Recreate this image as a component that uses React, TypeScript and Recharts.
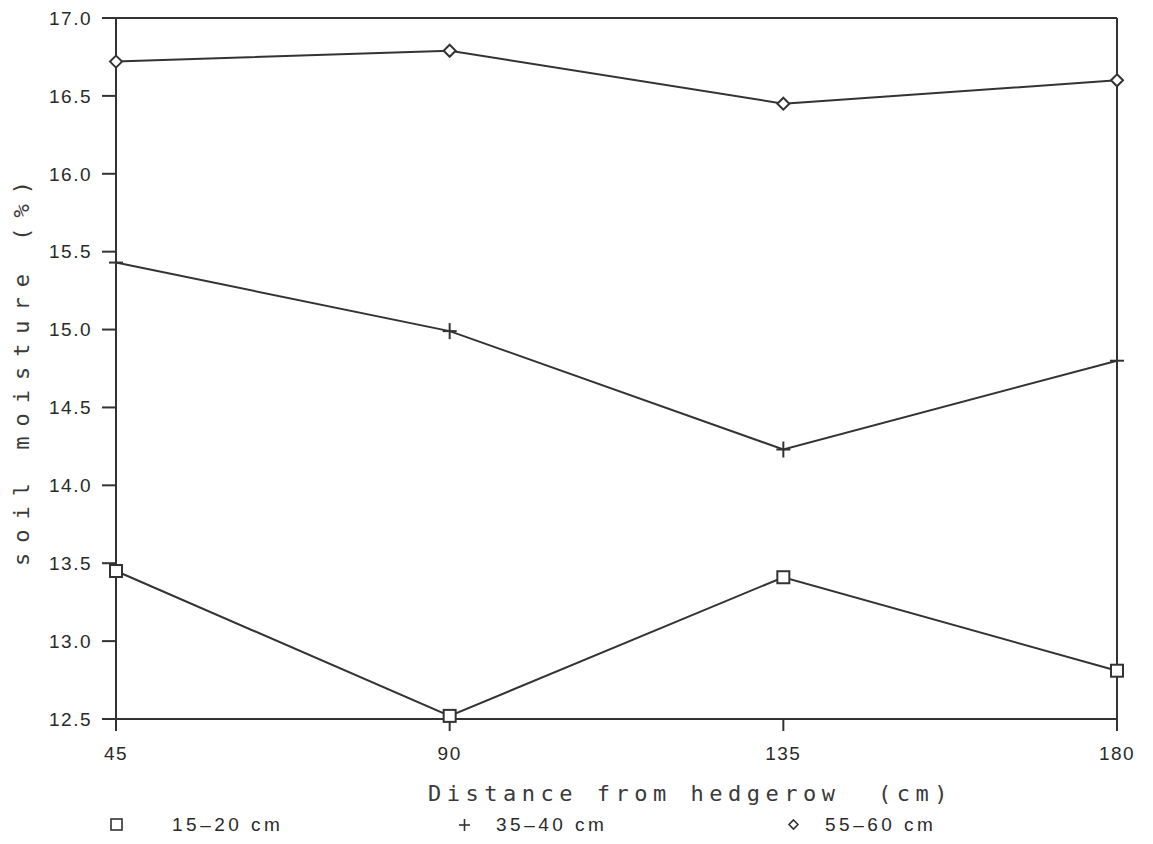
import { Line, LineChart, ReferenceLine, XAxis, YAxis } from 'recharts';

const distances = [45, 90, 135, 180];
const moisture15to20 = [13.45, 12.52, 13.41, 12.81];
const moisture35to40 = [15.43, 14.99, 14.23, 14.8];
const moisture55to60 = [16.72, 16.79, 16.45, 16.6];
const moistureTicks = [12.5, 13.0, 13.5, 14.0, 14.5, 15.0, 15.5, 16.0, 16.5, 17.0];
const depthLabels = ['15–20 cm', '35–40 cm', '55–60 cm'];

const data = distances.map((distance, i) => ({
  distance,
  d15: moisture15to20[i],
  d35: moisture35to40[i],
  d55: moisture55to60[i],
}));

const INK = '#333';
const tickFont = {
  fontFamily: '"Liberation Sans", Arial, sans-serif',
  fontSize: 19,
  fill: '#2a2a2a',
  letterSpacing: 1.5,
};
const titleFont = {
  fontFamily: '"DejaVu Sans Mono", monospace',
  fontSize: 22,
  fill: '#3a3a3a',
};

function SquareDot({ cx, cy }: any) {
  return <rect x={cx - 6} y={cy - 6} width={12} height={12} fill="#fff" stroke={INK} strokeWidth={2} />;
}

function PlusDot({ cx, cy }: any) {
  return (
    <g stroke={INK} strokeWidth={2}>
      <line x1={cx - 7} y1={cy} x2={cx + 7} y2={cy} />
      <line x1={cx} y1={cy - 8} x2={cx} y2={cy + 8} />
    </g>
  );
}

function DiamondDot({ cx, cy }: any) {
  return (
    <polygon
      points={`${cx},${cy - 6} ${cx + 6},${cy} ${cx},${cy + 6} ${cx - 6},${cy}`}
      fill="#fff"
      stroke={INK}
      strokeWidth={2}
    />
  );
}

function XTitle({ viewBox }: any) {
  const { x, y, width } = viewBox;
  return (
    <text x={x + width / 2 + 74} y={y + 82} textAnchor="middle" style={{ ...titleFont, letterSpacing: 5.5 }}>
      {'Distance from hedgerow\u00a0\u00a0(cm)'}
    </text>
  );
}

function YTitle({ viewBox }: any) {
  const { y, height } = viewBox;
  const cx = 29;
  const cy = y + height / 2;
  return (
    <text
      x={cx}
      y={cy}
      textAnchor="middle"
      transform={`rotate(-90 ${cx} ${cy})`}
      style={{ ...titleFont, letterSpacing: 10 }}
    >
      soil moisture (%)
    </text>
  );
}

const legendMarks = [
  <rect key="s" x={2} y={2} width={11} height={11} fill="#fff" stroke={INK} strokeWidth={1.6} />,
  <g key="p" stroke={INK} strokeWidth={1.6}>
    <line x1={2} y1={8} x2={13} y2={8} />
    <line x1={7.5} y1={2} x2={7.5} y2={14} />
  </g>,
  <polygon key="d" points="7.5,3 12,7.5 7.5,12 3,7.5" fill="#fff" stroke={INK} strokeWidth={1.6} />,
];
const legendLeft = [109, 457, 786];

export default function App() {
  return (
    <div style={{ position: 'absolute', left: 0, top: 0, width: 1153, height: 844, background: '#fff' }}>
      <LineChart width={1153} height={844} data={data} margin={{ top: 18, right: 36, bottom: 30, left: 0 }}>
        <XAxis
          dataKey="distance"
          type="number"
          domain={[45, 180]}
          ticks={distances}
          tickSize={12}
          tickMargin={16}
          height={95}
          axisLine={{ stroke: INK, strokeWidth: 2 }}
          tickLine={{ stroke: INK, strokeWidth: 2 }}
          tick={tickFont}
          label={<XTitle />}
        />
        <YAxis
          domain={[12.5, 17]}
          ticks={moistureTicks}
          tickFormatter={(v: number) => v.toFixed(1)}
          width={116}
          tickSize={14}
          tickMargin={10}
          axisLine={{ stroke: INK, strokeWidth: 2 }}
          tickLine={{ stroke: INK, strokeWidth: 2 }}
          tick={tickFont}
          label={<YTitle />}
        />
        <ReferenceLine y={17} stroke={INK} strokeWidth={2} />
        <ReferenceLine x={180} stroke={INK} strokeWidth={2} />
        <Line type="linear" dataKey="d15" stroke={INK} strokeWidth={2} dot={<SquareDot />} isAnimationActive={false} />
        <Line type="linear" dataKey="d35" stroke={INK} strokeWidth={2} dot={<PlusDot />} isAnimationActive={false} />
        <Line type="linear" dataKey="d55" stroke={INK} strokeWidth={2} dot={<DiamondDot />} isAnimationActive={false} />
      </LineChart>
      {depthLabels.map((label, i) => (
        <div
          key={label}
          style={{
            position: 'absolute',
            left: legendLeft[i],
            top: 814,
            display: 'flex',
            alignItems: 'center',
            fontFamily: '"Liberation Sans", Arial, sans-serif',
            fontSize: 19,
            letterSpacing: 3.5,
            color: '#2a2a2a',
          }}
        >
          <svg width={15} height={16} style={{ marginRight: i === 0 ? 48 : 24 }}>
            {legendMarks[i]}
          </svg>
          {label}
        </div>
      ))}
    </div>
  );
}
